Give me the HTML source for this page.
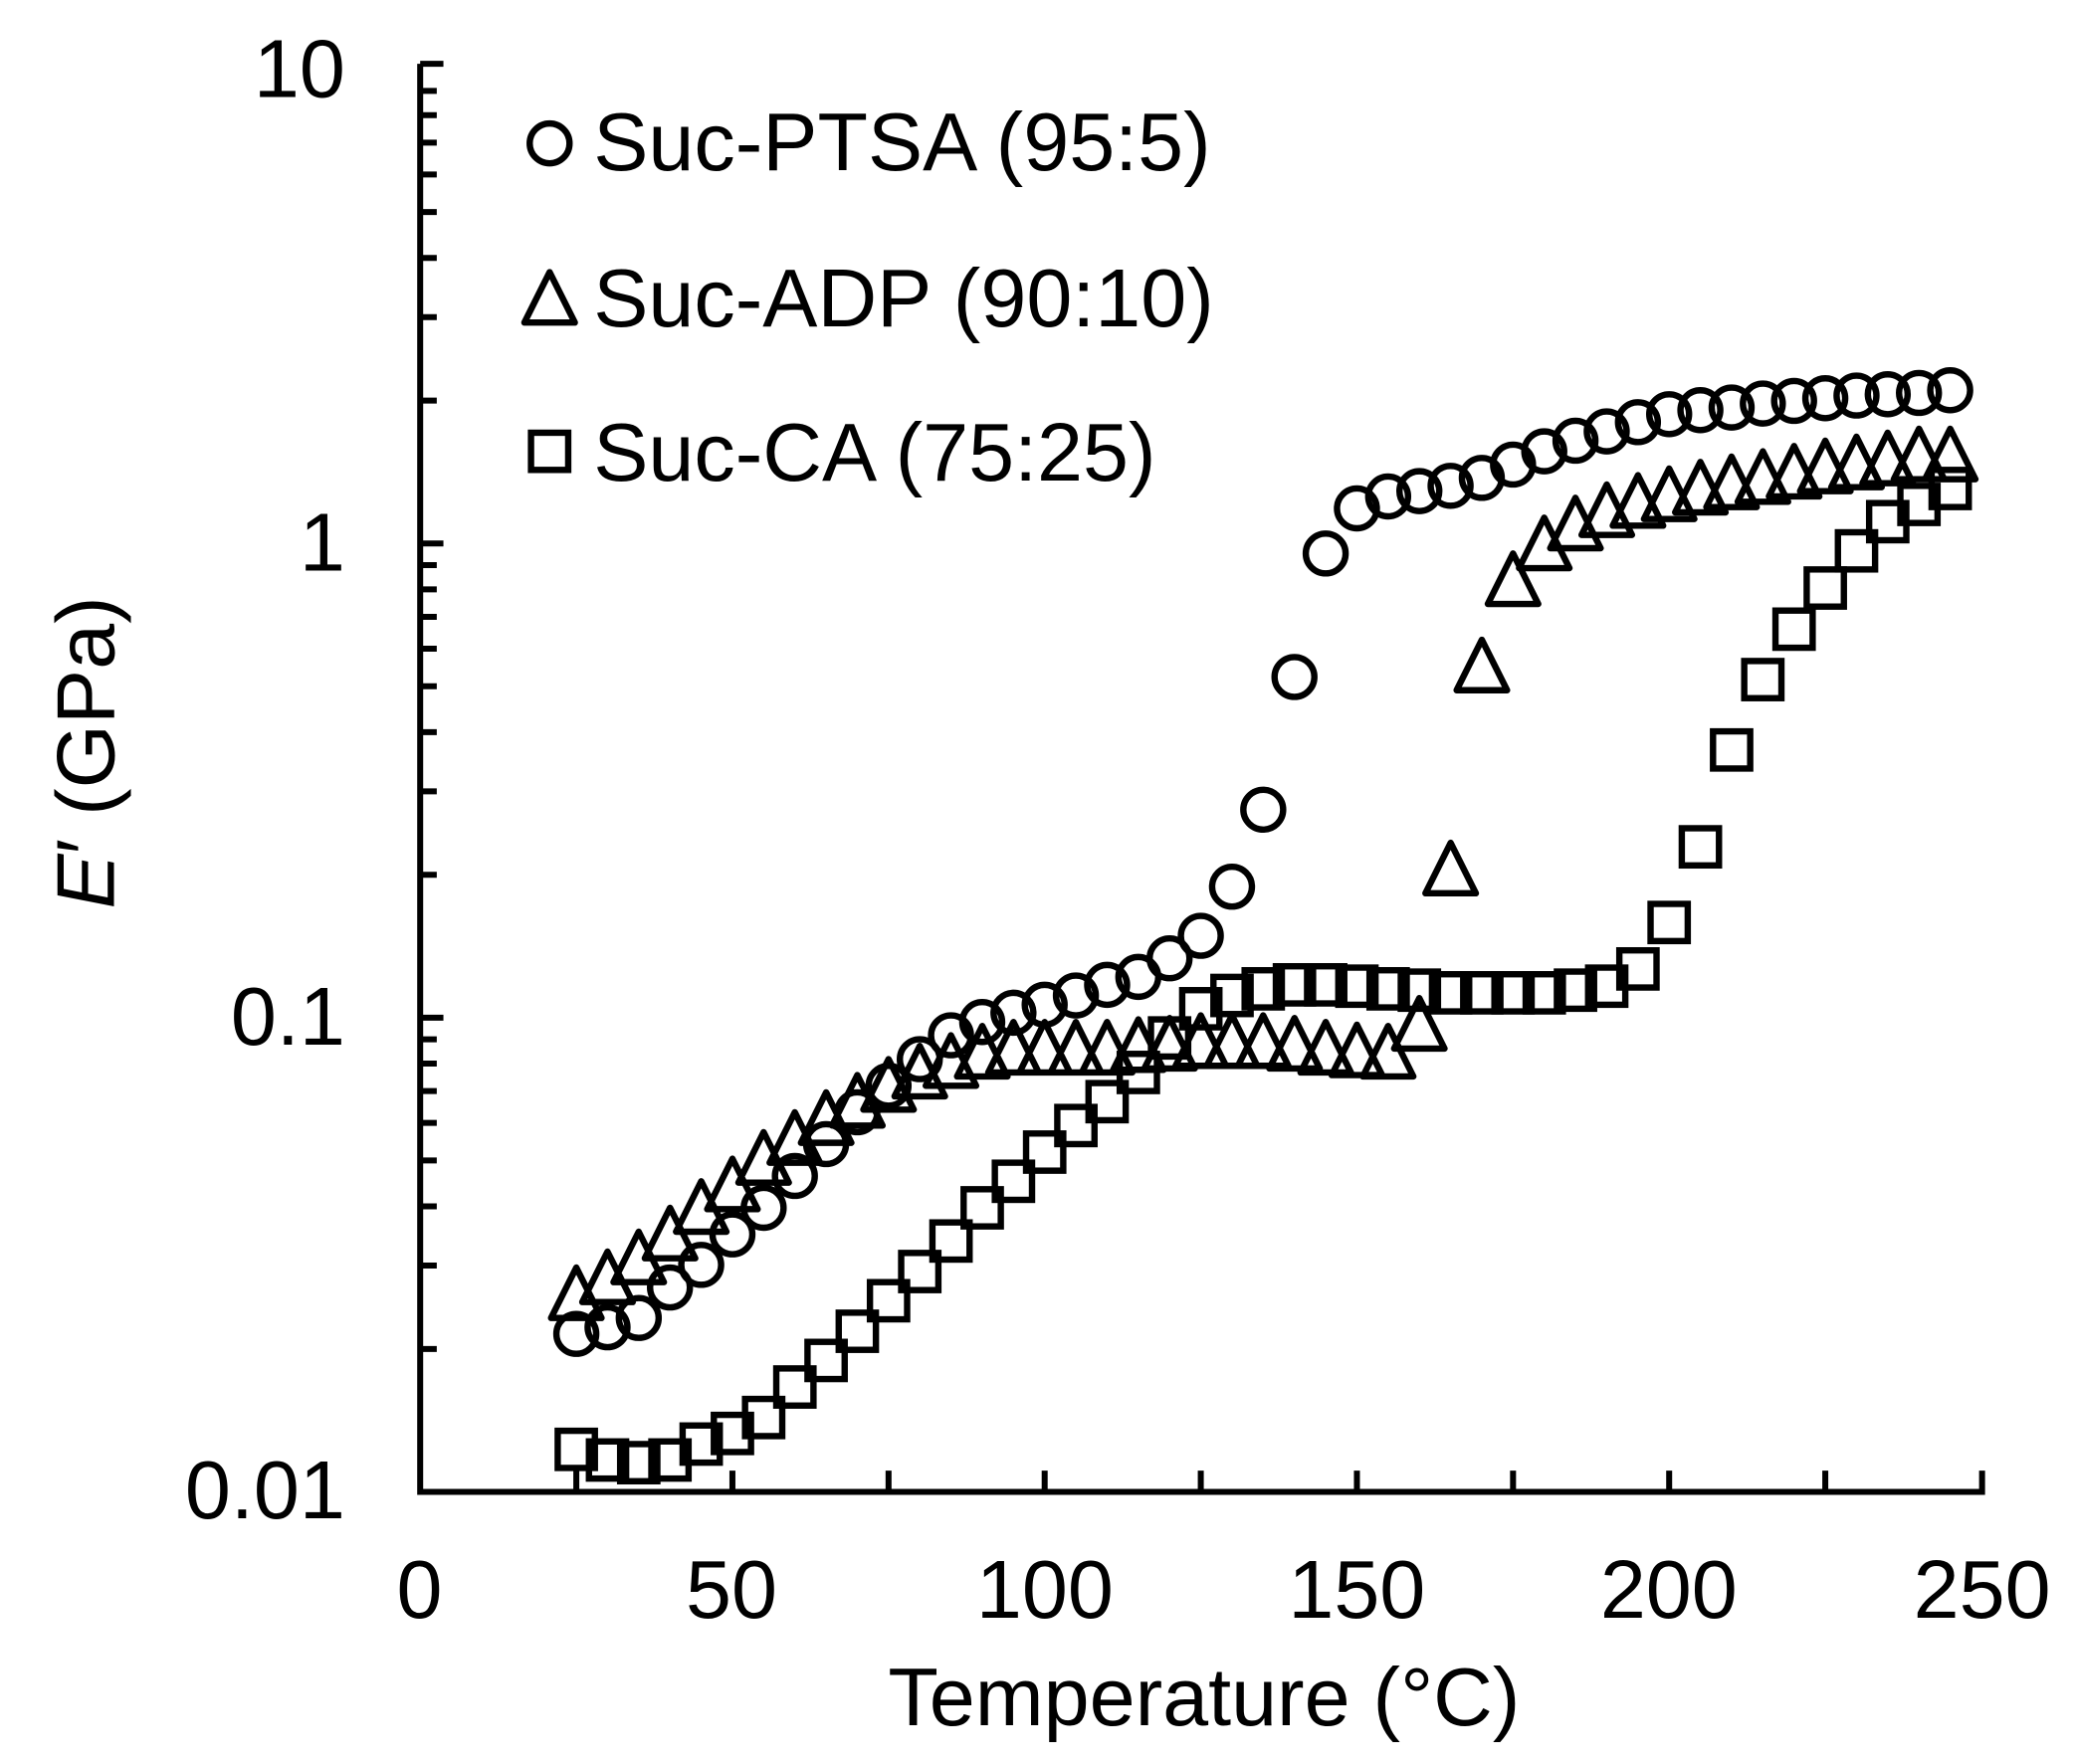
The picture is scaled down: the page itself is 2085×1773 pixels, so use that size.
<!DOCTYPE html>
<html><head><meta charset="utf-8"><style>html,body{margin:0;padding:0;background:#fff}svg{display:block}</style></head>
<body>
<svg xmlns="http://www.w3.org/2000/svg" width="2085" height="1773" viewBox="0 0 1563 1329">
<rect width="1563" height="1329" fill="#fff"/>
<g stroke="#000" stroke-width="4.5" fill="none">
<path d="M316.5 48 V1124 H1493 V1108"/>
<path id="t" d=""/>
</g>
<g id="ticks" stroke="#000" stroke-width="4.5"></g>
<g id="data" stroke="#000" stroke-width="4.8" fill="none"></g>
<g font-family="Liberation Sans, Arial, sans-serif" font-size="62" fill="#000">
<text x="260" y="73" text-anchor="end">10</text>
<text x="260" y="430" text-anchor="end">1</text>
<text x="260" y="787" text-anchor="end">0.1</text>
<text x="260" y="1144" text-anchor="end">0.01</text>
<text x="316" y="1219" text-anchor="middle">0</text>
<text x="551" y="1219" text-anchor="middle">50</text>
<text x="787" y="1219" text-anchor="middle">100</text>
<text x="1022" y="1219" text-anchor="middle">150</text>
<text x="1257" y="1219" text-anchor="middle">200</text>
<text x="1493" y="1219" text-anchor="middle">250</text>
<text x="907" y="1300" text-anchor="middle">Temperature (°C)</text>
<text transform="translate(86,567) rotate(-90)" text-anchor="middle"><tspan font-style="italic">E</tspan>′ (GPa)</text>
<text x="447" y="128">Suc-PTSA (95:5)</text>
<text x="447" y="246">Suc-ADP (90:10)</text>
<text x="447" y="362">Suc-CA (75:25)</text>
</g>
<g stroke="#000" stroke-width="4.8" fill="none">
<circle cx="414" cy="108" r="15"/>
<path d="M414 205 L433 243 L395 243 Z" stroke-linejoin="round"/>
<rect x="400" y="326" width="28" height="28"/>
</g>
<script>
var ns="http://www.w3.org/2000/svg";
var tk=document.getElementById("ticks"),d="";
var y0=1124,dec=357.3;
for(var k=0;k<3;k++){for(var m=1;m<10;m++){var y=y0-dec*(k+Math.log10(m));d+="M316.5 "+y.toFixed(1)+"H"+(m==1?334:329);}}
d+="M316.5 48H334";
for(var i=1;i<10;i++){var x=316.5+i*117.6;d+="M"+x.toFixed(1)+" 1124V1108";}
var p=document.createElementNS(ns,"path");p.setAttribute("d",d);tk.appendChild(p);
var C=[1005,1000,993,970,953,930,910,886,862,838,818,798,780,770,763,757,750,742,736,722,705,668,610,510,417,383,374,370,366,360,350,340,332,325,318,312,309,307,304,302,300,298,297,296,294];
var T=[975,963,948,930,910,893,873,858,843,830,818,808,800,793,790,790,790,790,788,787,785,785,785,787,790,792,793,772,655,502,437,410,395,385,378,373,368,364,360,356,352,349,346,343,343];
var S=[1092,1100,1102,1100,1088,1080,1068,1045,1025,1003,980,958,935,910,890,868,848,830,808,782,760,750,745,742,742,743,745,746,748,748,748,748,746,743,730,695,638,565,512,474,443,415,393,380,368];
var g=document.getElementById("data"),s="";
for(var i=0;i<45;i++){var x=316.5+4.704*(25+5*i);
var c=document.createElementNS(ns,"circle");c.setAttribute("cx",x);c.setAttribute("cy",C[i]);c.setAttribute("r",15);g.appendChild(c);
s+="M"+x.toFixed(1)+" "+(T[i]-20)+"L"+(x+19).toFixed(1)+" "+(T[i]+18)+"L"+(x-19).toFixed(1)+" "+(T[i]+18)+"Z";
var r=document.createElementNS(ns,"rect");r.setAttribute("x",x-14);r.setAttribute("y",S[i]-14);r.setAttribute("width",28);r.setAttribute("height",28);g.appendChild(r);}
var tp=document.createElementNS(ns,"path");tp.setAttribute("d",s);tp.setAttribute("stroke-linejoin","round");g.appendChild(tp);
</script>
</svg>
</body></html>
